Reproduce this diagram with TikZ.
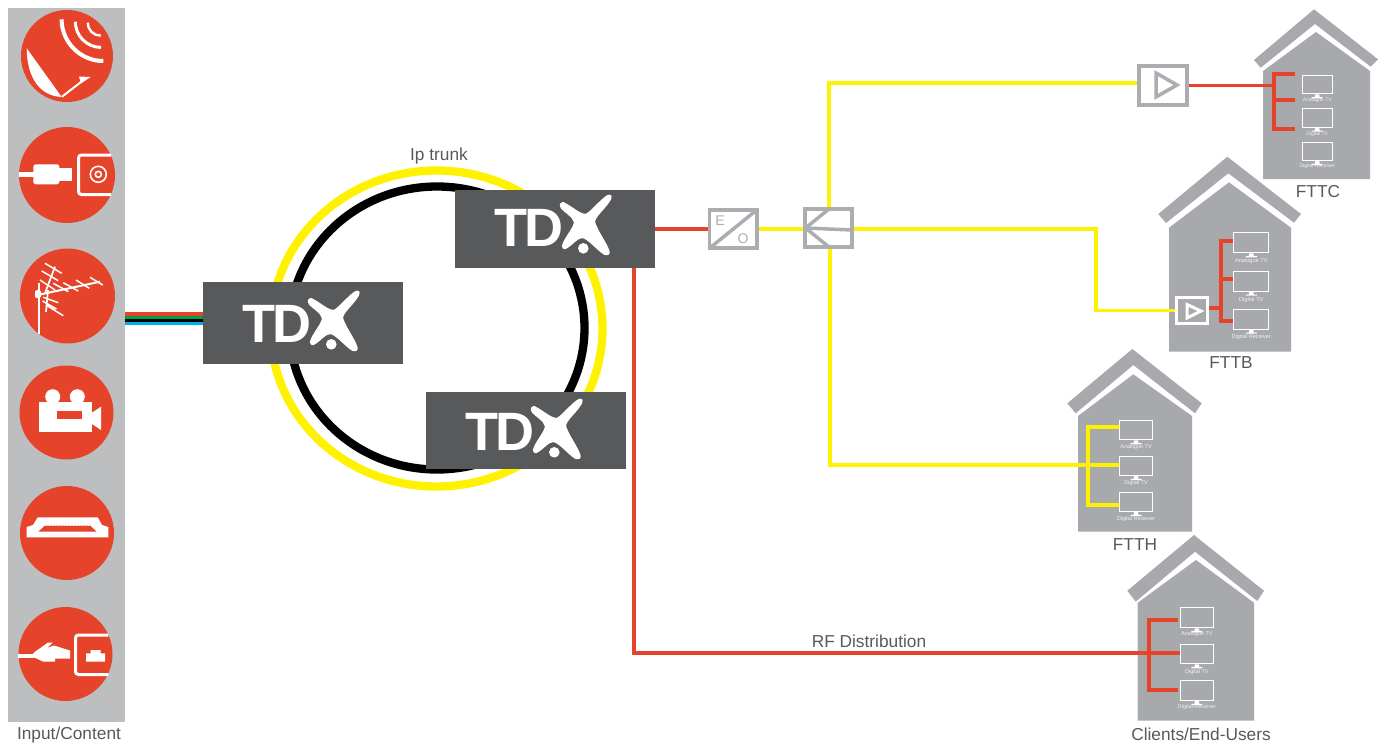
\documentclass[tikz,border=0pt]{standalone}
\usepackage{fontspec}
\setmainfont{Liberation Sans}
\definecolor{panel}{HTML}{BCBEC0}
\definecolor{tred}{HTML}{E5432A}
\definecolor{tyellow}{HTML}{FFF200}
\definecolor{thouse}{HTML}{A7A9AC}
\definecolor{tbox}{HTML}{58595B}
\definecolor{tgreen}{HTML}{00A14B}
\definecolor{tblue}{HTML}{00AEEF}
\definecolor{tdev}{HTML}{ABADB0}
\tikzset{
  tdxbox/.style={fill=tbox,inner sep=0,outer sep=0,anchor=north west,minimum width=200pt},
  tdxword/.style={anchor=base west,inner sep=0,text=white,font=\fontsize{54}{54}\selectfont\bfseries},
  devbox/.style={draw=tdev,line width=3.5pt,inner sep=0,outer sep=1.75pt,fill=white},
  label/.style={text=tbox,font=\fontsize{17.3}{19}\selectfont,inner sep=0},
  redline/.style={draw=tred,line width=3.2pt},
  yelline/.style={draw=tyellow,line width=3.3pt},
  busred/.style={draw=tred,line width=4pt},
  busyel/.style={draw=tyellow,line width=4pt},
  screen/.style={draw=white,line width=1.1pt,inner sep=0,outer sep=.5pt,anchor=north west},
  housefill/.style={fill=thouse},
  iconcirc/.style={fill=tred},
}
\newcommand\tdxlogo[3]{%
  \begin{scope}[shift={(#1,#2)}]
    \node[tdxword] (#3) at (39,56) {T\kern-2.5pt D};
    \filldraw[white,line width=2.2pt,line join=round] (108,13) .. controls (118,18) and (124,25) .. (131,25)
      .. controls (137,22) and (146,10) .. (153,6)
      .. controls (156,5) and (156,7) .. (155,9)
      .. controls (150,18) and (139,26) .. (139,32)
      .. controls (141,40) and (150,52) .. (153,60)
      .. controls (155,64) and (152,65) .. (150,64)
      .. controls (143,60) and (133,47) .. (127,47)
      .. controls (122,47) and (117,54) .. (112,57)
      .. controls (109,59) and (108,58) .. (108,56)
      .. controls (110,48) and (120,38) .. (120,32)
      .. controls (118,25) and (110,22) .. (107,18)
      .. controls (105,15) and (106,13) .. (108,13) -- cycle;
    \fill[tbox] (128.3,58.3) circle[radius=7.2pt];
    \fill[white] (128.3,58.3) circle[radius=5.3pt];
  \end{scope}}
% name, x, y, w, h, label, label centre y, font size
\newcommand\tv[8]{%
  \node[screen,minimum width=#4pt,minimum height=#5pt] (#1) at (#2,#3) {};
  \fill[white] ([xshift=-2pt]#1.south) -- ([xshift=2pt]#1.south) -- ([xshift=2.5pt,yshift=-2.8pt]#1.south) -- ([xshift=5.5pt,yshift=-2.8pt]#1.south) -- ([xshift=5.5pt,yshift=-4pt]#1.south) -- ([xshift=-5.5pt,yshift=-4pt]#1.south) -- ([xshift=-5.5pt,yshift=-2.8pt]#1.south) -- ([xshift=-2.5pt,yshift=-2.8pt]#1.south) -- cycle;
  \node[text=white,inner sep=0,font=\fontsize{#8}{#8}\selectfont,opacity=.85] (#1l) at (#1.south |- 0,#7) {#6};}
\begin{document}
\begin{tikzpicture}[x=1pt,y=-1pt]
\useasboundingbox (0,0) rectangle (1386,745);
% input panel
\fill[panel] (8,8) rectangle (125,722);
\foreach \cx/\cy/\r in {67/56/46,67/175/48,67.5/296/47.5,66.5/412.5/47,67/533/47,65.5/654/47}
  \fill[iconcirc] (\cx,\cy) circle[radius=\r pt];
% dish
\fill[white] (26.7,48.3) .. controls (27,78) and (40,96) .. (61.7,97) -- cycle;
\draw[white,line width=2pt] (62,96.7) -- (81,82);
\fill[white] (79,76.5) -- (90.5,77) -- (81,83.5) -- cycle;
\draw[white,line width=4pt] (61.6,19.3) .. controls (61.6,42.2) and (80.4,61) .. (103.3,61);
\draw[white,line width=3pt] (75.3,21.7) .. controls (75.3,35.8) and (86.9,47.4) .. (101,47.4);
\draw[white,line width=2.4pt] (87.7,22.7) .. controls (87.7,29.9) and (93.5,35.7) .. (100.7,35.7);
% coax
\draw[white,line width=5pt] (19.3,174.3) -- (34,174.3);
\fill[white,rounded corners=2.5pt] (33.3,164.3) rectangle (59.3,184.3);
\fill[white] (59,168.3) rectangle (72,181);
\draw[white,line width=3pt,rounded corners=3pt] (111,155) -- (78.5,155) -- (78.5,194.5) -- (111,194.5);
\draw[white,line width=1.6pt] (98.3,174.3) circle[radius=8pt];
\draw[white,line width=1.6pt] (98.3,174.3) circle[radius=3pt];
% antenna
\draw[white,line width=2pt] (39,283.3) -- (39,334);
\fill[white,rounded corners=1.5pt] (35,290) rectangle (41,298);
\draw[white,line width=2pt] (40,294.5) -- (100,281.7);
\draw[white,line width=1.7pt] (45,293) -- (55,266.7);
\draw[white,line width=1.7pt] (48,290) -- (46,312);
\draw[white,line width=1.5pt]
  (90,277.3) -- (102.7,285) (76,280) -- (89.3,288.3) (63.3,282.7) -- (78.3,291) (53.3,283.3) -- (68.3,291.7)
  (45,263.3) -- (61.7,273.3) (41.7,271) -- (58.3,280.7) (40,280) -- (55,290)
  (43.3,297.3) -- (58.3,302.7) (42.5,301) -- (56.5,309) (46,305) -- (63.3,315.7);
% camera
\fill[white] (39,402.3) rectangle (91.7,431.7);
\fill[white] (52.7,396.7) circle[radius=7.5pt];
\fill[white] (77.3,396.7) circle[radius=7.5pt];
\fill[white] (91,413.3) -- (101,406.7) -- (101,430) -- (91,423.3) -- cycle;
\fill[tred] (56.7,411) rectangle (81.7,419);
% hdmi
\fill[white] (26.7,537.3) -- (26.7,527) -- (33,525) -- (37.7,517.3) -- (97.7,517.3) -- (102,525) -- (108.3,527) -- (108.3,537.3) -- cycle;
\fill[tred] (45,525.5) -- (90,525.5) -- (96.7,531.7) -- (38.3,531.7) -- cycle;
\draw[white,line width=1pt,dash pattern=on 1pt off 2pt] (45.5,525.8) -- (89.5,525.8);
% rj45
\draw[white,line width=4pt] (18.3,655.7) -- (34,655.7);
\fill[white] (33.3,653) -- (48,642.5) -- (53,642.5) -- (47,648) -- (54,645.5) -- (70,650.5) -- (70,658.5) -- (55,658.5) -- (55,661.7) -- (43.3,661.7) -- (33.3,657) -- cycle;
\draw[white,line width=3pt,rounded corners=3pt] (108.3,635) -- (75.5,635) -- (75.5,674.5) -- (108.3,674.5);
\fill[white] (86,653.3) -- (90.7,653.3) -- (90.7,650) -- (100.7,650) -- (100.7,653.3) -- (105,653.3) -- (105,661.7) -- (86,661.7) -- cycle;
% rings
\draw[tyellow,line width=8.3pt] (436.5,328.5) ellipse[x radius=166pt,y radius=158pt];
\draw[black,line width=8.3pt] (437,328) ellipse[x radius=147.5pt,y radius=141.5pt];
% trunk nodes
\node[tdxbox,minimum height=82pt] (tdxA) at (203,282) {};
\node[tdxbox,minimum height=78pt] (tdxB) at (455,190) {};
\node[tdxbox,minimum height=77pt] (tdxC) at (426,392) {};
\tdxlogo{203}{286}{wordA}
\tdxlogo{455}{190}{wordB}
\tdxlogo{426}{394}{wordC}
% input bundle
\coordinate (pan) at (125,318);
\fill[tred] (pan |- 0,312) rectangle (tdxA.west |- 0,315.5);
\fill[tgreen] (pan |- 0,315.5) rectangle (tdxA.west |- 0,319);
\fill[black] (pan |- 0,319) rectangle (tdxA.west |- 0,322);
\fill[tblue] (pan |- 0,322) rectangle (tdxA.west |- 0,325);
% FTTC
\fill[housefill] (1263,179) -- (1263,71) -- (1316,32) -- (1370,71) -- (1370,179) -- cycle;
\fill[housefill] (1254,60) -- (1314,9.3) -- (1378,59.3) -- (1370.7,66.7) -- (1315,24) -- (1260.7,67.7) -- cycle;
% FTTB
\fill[housefill] (1169,351.7) -- (1169,227.7) -- (1229,182.3) -- (1291,227.7) -- (1291,351.7) -- cycle;
\fill[housefill] (1158.3,214) -- (1227.3,156.7) -- (1301,214) -- (1294,222.7) -- (1228.3,173.3) -- (1166,223) -- cycle;
% FTTH
\fill[housefill] (1078,531.7) -- (1078,416) -- (1133.3,374.3) -- (1192,416) -- (1192,531.7) -- cycle;
\fill[housefill] (1067.3,403.3) -- (1132.3,349) -- (1201.7,403.3) -- (1195,413.3) -- (1133.3,365) -- (1075.7,413.3) -- cycle;
% Clients
\fill[housefill] (1137.7,720.7) -- (1137.7,602.7) -- (1196,560) -- (1254,602.7) -- (1254,720.7) -- cycle;
\fill[housefill] (1127.3,590.7) -- (1194,535) -- (1264,590.7) -- (1257.3,601) -- (1195,551.7) -- (1135.7,601.7) -- cycle;
% screens
\tv{c1}{1301.7}{75}{30}{18.3}{Analogue TV}{100}{5}
\tv{c2}{1301.7}{108}{30}{18.7}{Digital TV}{134}{5}
\tv{c3}{1301.7}{141.7}{30}{18.3}{Digital Receiver}{166}{5}
\tv{b1}{1233.3}{232.3}{35}{20}{Analogue TV}{261}{5.6}
\tv{b2}{1233.3}{270.7}{35}{20}{Digital TV}{300}{5.6}
\tv{b3}{1233.3}{308.7}{35}{20}{Digital Receiver}{337}{5.6}
\tv{h1}{1119.3}{420.3}{32.4}{19}{Analogue TV}{447}{5.4}
\tv{h2}{1119.3}{455.7}{32.4}{19.3}{Digital TV}{483}{5.4}
\tv{h3}{1119.3}{491.7}{32.4}{19.3}{Digital Receiver}{519}{5.4}
\tv{e1}{1180}{607.3}{32.7}{20}{Analogue TV}{634}{5.4}
\tv{e2}{1180}{644}{32.7}{19.3}{Digital TV}{672}{5.4}
\tv{e3}{1180}{680}{32.7}{20}{Digital Receiver}{707}{5.4}
% devices
\node[devbox,minimum width=47.5pt,minimum height=38pt] (eo) at (733.3,229) {};
\node[devbox,minimum width=47pt,minimum height=38pt] (split) at (828.5,228) {};
\node[devbox,minimum width=48pt,minimum height=39pt] (ampC) at (1163,85.5) {};
\node[draw=white,line width=3.2pt,inner sep=0,outer sep=1.6pt,minimum width=31.2pt,minimum height=26pt] (ampB) at (1192,310.5) {};
% device interiors
\draw[tdev,line width=3.5pt] (711,247) -- (755.5,211);
\node[text=tdev,inner sep=0,font=\fontsize{14}{14}\selectfont] (eoE) at (720,221) {E};
\node[text=tdev,inner sep=0,font=\fontsize{14}{14}\selectfont] (eoO) at (743,239) {O};
\draw[tdev,line width=3.5pt] (829,209) -- (805.5,228) -- (829,247);
\draw[tdev,line width=3.5pt] (805.5,228) -- (852,230);
\draw[tdev,line width=3.5pt,line join=miter] (1156,73) -- (1177,85) -- (1156,97) -- cycle;
\draw[white,line width=3pt,line join=miter] (1187,304.5) -- (1201,311) -- (1187,318) -- cycle;
% connectors
\coordinate (ycT) at (829,83);
\coordinate (ycTE) at (1136.5,83);
\coordinate (ycB) at (830,465);
\coordinate (ybA) at (1096,229);
\coordinate (ybB) at (1096,310.5);
\coordinate (rfT) at (634,268);
\coordinate (rfB) at (634,653);
\draw[redline] (tdxB.east) -- (eo.west);
\draw[yelline] (eo.east) -- (eo.east -| split.west);
\draw[yelline,line join=miter] (ycT |- split.north) -- (ycT) -- (ycTE);
\draw[yelline,line join=miter] (split.east |- 0,229) -- (ybA) -- (ybB) -- (ampB.west);
\draw[yelline,line join=miter] (ycB |- split.south) -- (ycB) -- (h2.west |- ycB);
\draw[redline,line join=miter] (rfT) -- (rfB) -- (e2.west |- rfB);
\draw[redline] (ampC.east) -- (1275,85.5);
% buses
\draw[busred] (1295,74) -- (1274,74) -- (1274,129) -- (1295,129);
\draw[busred] (1274,100) -- (1295,100);
\draw[busred] (b1.west |- 0,241) -- (1221,241) -- (1221,321) -- (b3.west |- 0,321);
\draw[busred] (1221,279) -- (b2.west |- 0,279);
\draw[busred] (ampB.east |- 0,308) -- (1221,308);
\draw[busyel] (h1.west |- 0,427) -- (1088,427) -- (1088,505) -- (h3.west |- 0,505);
\draw[busred] (1178,620) -- (1149,620) -- (1149,690) -- (1178,690);
% labels
\node[label] (lIp) at (439,156.5) {Ip trunk};
\node[label] (lRF) at (869,641) {RF Distribution};
\node[label] (lC) at (1318,191.5) {FTTC};
\node[label] (lB) at (1231,362.5) {FTTB};
\node[label] (lH) at (1135,544.5) {FTTH};
\node[label] (lI) at (69,735) {Input/Content};
\node[label] (lE) at (1201,734) {Clients/End-Users};
\end{tikzpicture}
\end{document}
